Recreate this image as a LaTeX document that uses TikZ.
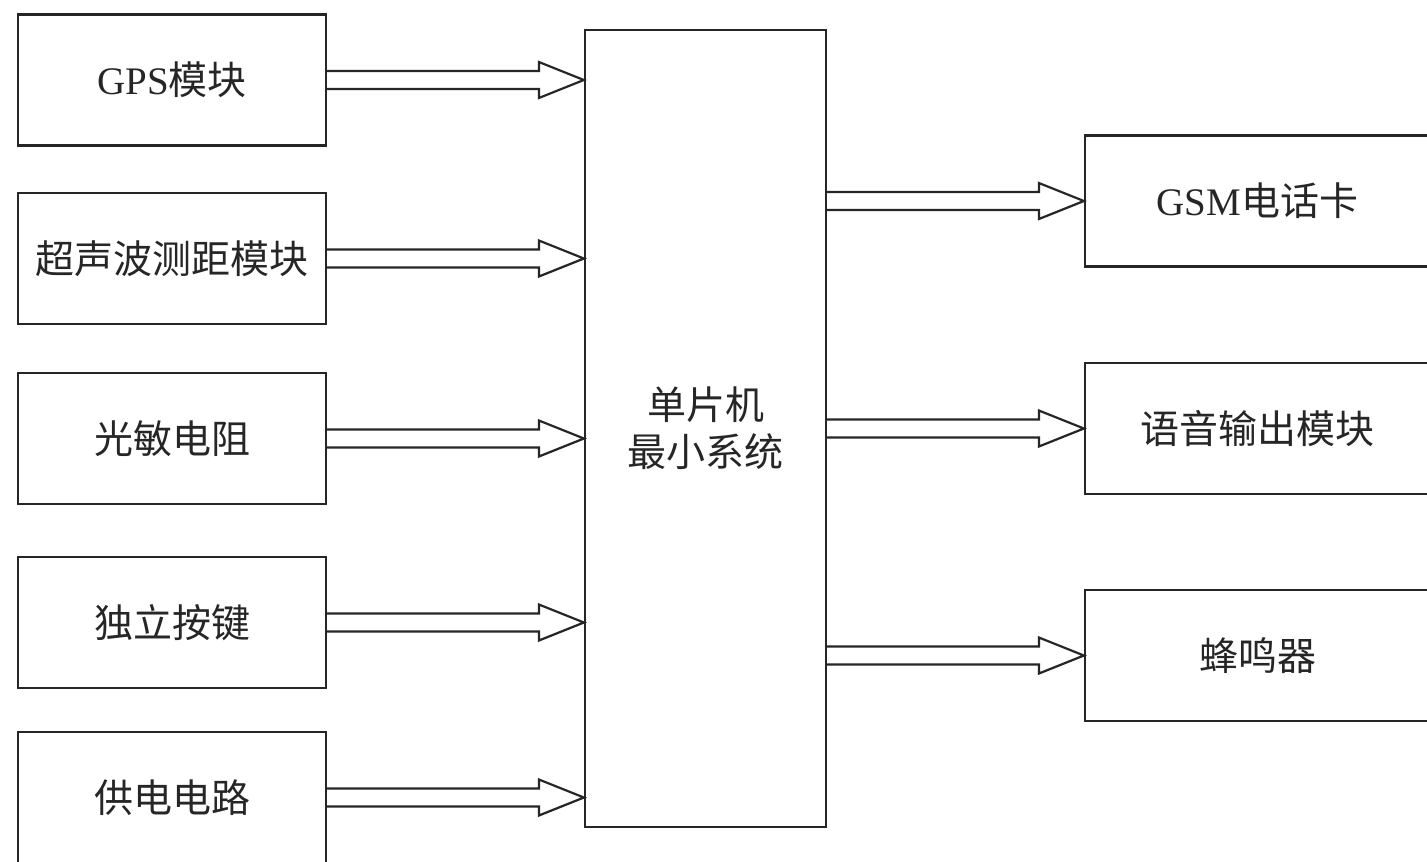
\documentclass[tikz,border=0pt]{standalone}
\usepackage{fontspec}
\setmainfont{Liberation Serif}
\newfontfamily\cjk{Noto Sans CJK SC}
\usetikzlibrary{calc}
\tikzset{
  blk/.style={draw=black!85, line width=2.2pt, fill=white, inner sep=0pt,
    text=black!85, font=\fontsize{39}{47}\selectfont, align=center},
  lbox/.style={blk, minimum width=308pt, minimum height=131pt},
  rbox/.style={blk, minimum width=345pt, minimum height=131pt},
  arr/.style={draw=black!85, line width=2.2pt, line join=miter, fill=white}
}
\newcommand{\fatarrow}[2]{%
  \draw[arr] ($(#1)+(0,9)$) -- ($(#2)+(-45,9)$) -- ($(#2)+(-45,18)$) -- (#2)
    -- ($(#2)+(-45,-18)$) -- ($(#2)+(-45,-9)$) -- ($(#1)+(0,-9)$);}
\begin{document}
\begin{tikzpicture}[x=1pt,y=-1pt]
\useasboundingbox[fill=white] (0,0) rectangle (1427,862);
% left blocks
\node[lbox] (gps) at (172,80) {GPS\cjk 模块};
\node[lbox] (ult) at (172,258.5) {\cjk 超声波测距模块};
\node[lbox] (ldr) at (172,438.5) {\cjk 光敏电阻};
\node[lbox] (key) at (172,622.5) {\cjk 独立按键};
\node[lbox] (pwr) at (172,797.5) {\cjk 供电电路};
% MCU
\node[blk, minimum width=241pt, minimum height=797pt] (mcu) at (705.5,428.5)
  {\cjk 单片机\\\cjk 最小系统};
% right blocks
\node[rbox] (gsm) at (1257.5,201) {GSM\cjk 电话卡};
\node[rbox] (voc) at (1257.5,428.5) {\cjk 语音输出模块};
\node[rbox] (buz) at (1257.5,655.5) {\cjk 蜂鸣器};
% connectors
\coordinate (t1) at (mcu.west |- gps.east);
\coordinate (t2) at (mcu.west |- ult.east);
\coordinate (t3) at (mcu.west |- ldr.east);
\coordinate (t4) at (mcu.west |- key.east);
\coordinate (t5) at (mcu.west |- pwr.east);
\fatarrow{gps.east}{t1}
\fatarrow{ult.east}{t2}
\fatarrow{ldr.east}{t3}
\fatarrow{key.east}{t4}
\fatarrow{pwr.east}{t5}
\coordinate (s6) at (mcu.east |- gsm.west);
\coordinate (s7) at (mcu.east |- voc.west);
\coordinate (s8) at (mcu.east |- buz.west);
\fatarrow{s6}{gsm.west}
\fatarrow{s7}{voc.west}
\fatarrow{s8}{buz.west}
\end{tikzpicture}
\end{document}
